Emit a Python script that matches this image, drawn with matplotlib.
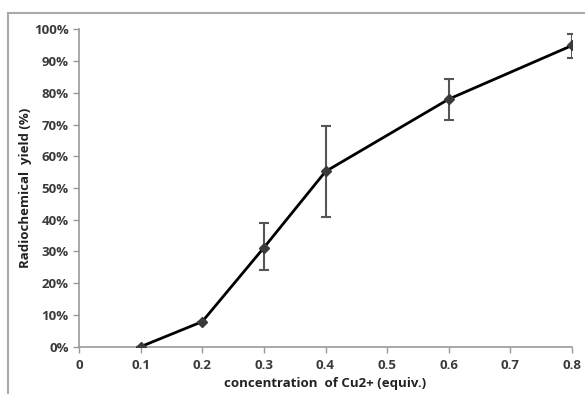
import matplotlib
matplotlib.use("Agg")
import matplotlib.pyplot as plt
from matplotlib.lines import Line2D
from matplotlib.ticker import PercentFormatter

# data
conc = [0.1, 0.2, 0.3, 0.4, 0.6, 0.8]
yield_pct = [0.0, 7.9, 31.2, 55.2, 78.0, 94.9]
err_low = [0.0, 0.0, 7.0, 14.2, 6.5, 3.9]
err_high = [0.0, 0.0, 7.7, 14.4, 6.4, 3.5]

xticks = [0, 0.1, 0.2, 0.3, 0.4, 0.5, 0.6, 0.7, 0.8]
xticklabels = ['0', '0.1', '0.2', '0.3', '0.4', '0.5', '0.6', '0.7', '0.8']
yticks = [0, 10, 20, 30, 40, 50, 60, 70, 80, 90, 100]

plt.rcParams['font.family'] = ['Open Sans', 'DejaVu Sans']

fig = plt.figure(figsize=(5.85, 3.97), dpi=100)
ax = fig.add_axes([79 / 585, 1 - 346.7 / 397, (572 - 79) / 585, (346.7 - 29.3) / 397])

ax.plot(conc, yield_pct, color='black', lw=2, zorder=3)
ax.errorbar(conc, yield_pct, yerr=[err_low, err_high], fmt='D', color='#3a3a3a',
            ms=5.5, ecolor='#555555', elinewidth=1.5, capsize=3.5, capthick=1.5, zorder=4)

ax.set_xlim(0, 0.8)
ax.set_ylim(0, 100)
ax.set_xticks(xticks)
ax.set_xticklabels(xticklabels)
ax.set_yticks(yticks)
ax.yaxis.set_major_formatter(PercentFormatter(decimals=0))

for s in ['top', 'right']:
    ax.spines[s].set_visible(False)
for s in ['left', 'bottom']:
    ax.spines[s].set_color('#999999')
    ax.spines[s].set_linewidth(1.2)
ax.tick_params(axis='both', colors='#999999', length=4, width=1, labelsize=9.5,
               labelcolor='#3a3a3a')
ax.tick_params(axis='x', pad=5)
for lbl in ax.get_xticklabels() + ax.get_yticklabels():
    lbl.set_fontweight('bold')

ax.set_xlabel('concentration  of Cu2+ (equiv.)', fontsize=9.5, fontweight='bold',
              color='#222222', va='center')
ax.set_ylabel('Radiochemical  yield (%)', fontsize=9.5, fontweight='bold',
              color='#222222', va='center')
ax.xaxis.set_label_coords(0.5, -(383 - 346.7) / 317.4)
ax.yaxis.set_label_coords((26 - 79) / 493, 0.5)

# outer chart frame (top and left edges visible)
fig.add_artist(Line2D([8 / 585, 1], [1 - 13 / 397, 1 - 13 / 397], color='#aaaaaa', lw=1.5))
fig.add_artist(Line2D([8 / 585, 8 / 585], [1 - 13 / 397, 1 - 393 / 397], color='#aaaaaa', lw=1.5))

fig.savefig('out.png', dpi=100)
